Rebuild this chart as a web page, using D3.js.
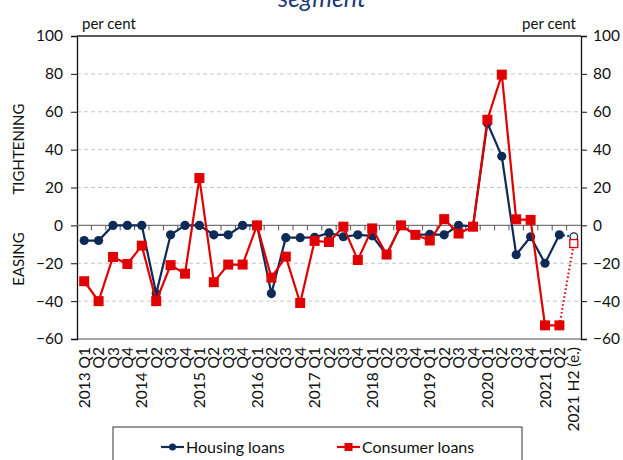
<!DOCTYPE html>
<html>
<head>
<meta charset="utf-8">
<script src="https://cdn.jsdelivr.net/npm/d3@7"></script>
<style>
  body { margin: 0; background: #fff; }
  svg { display: block; font-family: Lato, "Open Sans", sans-serif; }
</style>
</head>
<body>
<svg id="chart" width="623" height="460"></svg>
<script>
const categories = [
  "2013 Q1","Q2","Q3","Q4",
  "2014 Q1","Q2","Q3","Q4",
  "2015 Q1","Q2","Q3","Q4",
  "2016 Q1","Q2","Q3","Q4",
  "2017 Q1","Q2","Q3","Q4",
  "2018 Q1","Q2","Q3","Q4",
  "2019 Q1","Q2","Q3","Q4",
  "2020 Q1","Q2","Q3","Q4",
  "2021 Q1","Q2","2021 H2 (e.)"
];
const housing = [
  -8, -8, 0, 0,
  0, -36, -5, 0,
  0, -5, -5, 0,
  0, -36, -6.5, -6.5,
  -6.3, -4, -6, -5,
  -5.5, -15.5, 0, -5,
  -4.7, -5, 0, -0.5,
  54, 36.5, -15.5, -6,
  -20, -5, -6
];
const consumer = [
  -29.5, -40, -16.7, -20.4,
  -10.7, -40, -21, -25.5,
  25, -30, -20.7, -20.7,
  0, -27.6, -16.5, -41,
  -8.2, -8.8, -0.7, -18.3,
  -1.6, -15.4, 0, -5,
  -8, 3.3, -4.3, -0.7,
  55.8, 79.6, 3.2, 2.9,
  -52.8, -52.8, -9.6
];
const yTicks = [100, 80, 60, 40, 20, 0, -20, -40, -60];
const titleText = "segment";
const unitLabel = "per cent";
const seriesNames = ["Housing loans", "Consumer loans"];

const navy = "#0e2a56", red = "#e00000";
const svg = d3.select("#chart");
const m = {left: 77, right: 42, top: 36, bottom: 121};
const W = 623, H = 460;
const x = d3.scaleBand().domain(d3.range(categories.length)).range([m.left, W - m.right]);
const y = d3.scaleLinear().domain([-60, 100]).range([H - m.bottom, m.top]);
const cx = i => x(i) + x.bandwidth() / 2;

// title (cut off at top, as in the original)
svg.append("text").attr("x", 322).attr("y", 7).attr("text-anchor", "middle")
  .attr("font-size", 25).attr("font-style", "italic").attr("fill", "#1f3a78").text(titleText);

// grid
svg.append("g").selectAll("line").data(yTicks.filter(t => t !== 0 && t !== 100 && t !== -60)).join("line")
  .attr("x1", m.left).attr("x2", W - m.right).attr("y1", d => y(d)).attr("y2", d => y(d))
  .attr("stroke", "#c8c8c8").attr("stroke-dasharray", "4,3").attr("stroke-width", 1);

// top and bottom borders
svg.append("line").attr("x1", m.left).attr("x2", W - m.right).attr("y1", y(100)).attr("y2", y(100))
  .attr("stroke", "#222").attr("stroke-width", 1.3);
svg.append("line").attr("x1", m.left).attr("x2", W - m.right).attr("y1", y(-60)).attr("y2", y(-60))
  .attr("stroke", "#888").attr("stroke-width", 1.3);

// left and right axes
const axL = d3.axisLeft(y).tickValues(yTicks).tickSize(6).tickPadding(8);
const axR = d3.axisRight(y).tickValues(yTicks).tickSize(6).tickPadding(6);
const gL = svg.append("g").attr("transform", `translate(${m.left},0)`).call(axL);
const gR = svg.append("g").attr("transform", `translate(${W - m.right},0)`).call(axR);
[gL, gR].forEach(g => {
  g.select(".domain").attr("stroke", "#111").attr("stroke-width", 1.3);
  g.selectAll(".tick line").attr("stroke", "#111");
  g.selectAll(".tick text").attr("font-size", 15.5).attr("fill", "#111").attr("font-family", "Lato, sans-serif");
});

// zero line with category ticks
svg.append("line").attr("x1", m.left).attr("x2", W - m.right).attr("y1", y(0)).attr("y2", y(0))
  .attr("stroke", "#777").attr("stroke-width", 1.3);
svg.append("g").selectAll("line").data(d3.range(1, categories.length)).join("line")
  .attr("x1", i => x(i)).attr("x2", i => x(i)).attr("y1", y(0)).attr("y2", y(0) + 5)
  .attr("stroke", "#555").attr("stroke-width", 1);

// x labels
svg.append("g").selectAll("text").data(categories).join("text")
  .attr("transform", (d, i) => `translate(${cx(i) + 5.5},${y(-60) + 8}) rotate(-90)`)
  .attr("text-anchor", "end").attr("font-size", 15.5).attr("fill", "#111").text(d => d);

// per cent labels
svg.append("text").attr("x", 82).attr("y", 29).attr("font-size", 15).attr("fill", "#111").text(unitLabel);
svg.append("text").attr("x", 576).attr("y", 29).attr("text-anchor", "end").attr("font-size", 15).attr("fill", "#111").text(unitLabel);

// side labels
svg.append("text").attr("transform", `translate(24,149) rotate(-90)`).attr("text-anchor", "middle")
  .attr("font-size", 15).attr("fill", "#111").text("TIGHTENING");
svg.append("text").attr("transform", `translate(24,259) rotate(-90)`).attr("text-anchor", "middle")
  .attr("font-size", 15).attr("fill", "#111").text("EASING");

// lines
const n = categories.length;
const line = d3.line().x(d => cx(d[0])).y(d => y(d[1]));
function drawSeries(vals, color, marker) {
  const solid = vals.slice(0, n - 1).map((v, i) => [i, v]);
  const est = [[n - 2, vals[n - 2]], [n - 1, vals[n - 1]]];
  svg.append("path").attr("d", line(solid)).attr("fill", "none").attr("stroke", color).attr("stroke-width", 2.2);
  svg.append("path").attr("d", line(est)).attr("fill", "none").attr("stroke", color).attr("stroke-width", 2.2)
    .attr("stroke-dasharray", "1.5,2.5");
  const g = svg.append("g");
  solid.forEach(d => {
    if (marker === "circle") g.append("circle").attr("cx", cx(d[0])).attr("cy", y(d[1])).attr("r", 4.6).attr("fill", color);
    else g.append("rect").attr("x", cx(d[0]) - 5).attr("y", y(d[1]) - 5).attr("width", 10).attr("height", 10).attr("fill", color);
  });
  const e = est[1];
  if (marker === "circle") g.append("circle").attr("cx", cx(e[0])).attr("cy", y(e[1])).attr("r", 3.8).attr("fill", "#fff").attr("stroke", color).attr("stroke-width", 1.3);
  else g.append("rect").attr("x", cx(e[0]) - 4).attr("y", y(e[1]) - 4).attr("width", 8).attr("height", 8).attr("fill", "#fff").attr("stroke", color).attr("stroke-width", 1.3);
}
drawSeries(housing, navy, "circle");
drawSeries(consumer, red, "square");

// legend
svg.append("rect").attr("x", 113).attr("y", 427).attr("width", 409).attr("height", 40)
  .attr("fill", "#fff").attr("stroke", "#333").attr("stroke-width", 1);
const leg = [{name: seriesNames[0], color: navy, m: "circle", x: 161}, {name: seriesNames[1], color: red, m: "square", x: 337}];
leg.forEach(l => {
  svg.append("line").attr("x1", l.x).attr("x2", l.x + 23).attr("y1", 447).attr("y2", 447).attr("stroke", l.color).attr("stroke-width", 2.2);
  if (l.m === "circle") svg.append("circle").attr("cx", l.x + 11.5).attr("cy", 447).attr("r", 3.5).attr("fill", l.color);
  else svg.append("rect").attr("x", l.x + 7.5).attr("y", 443).attr("width", 8).attr("height", 8).attr("fill", l.color);
  svg.append("text").attr("x", l.x + 25).attr("y", 452.5).attr("font-size", 16).attr("fill", "#111").text(l.name);
});
</script>
</body>
</html>
